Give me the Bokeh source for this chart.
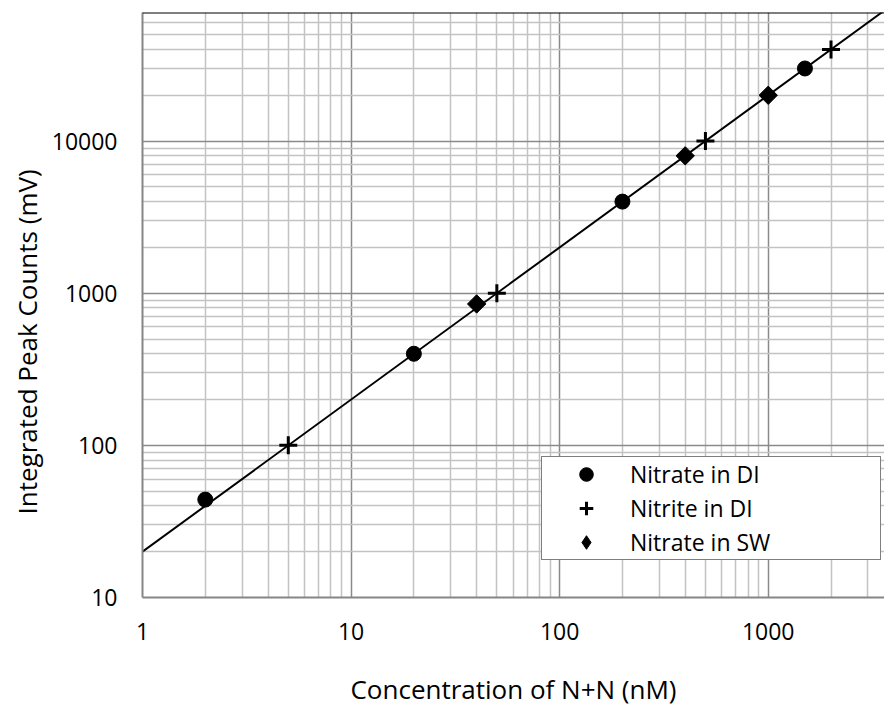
import numpy as np
from bokeh.plotting import figure
from bokeh.models import Range1d, FixedTicker, Span, Legend, LegendItem, Title
from bokeh.embed import file_html
from bokeh.resources import INLINE

# ---- data ----
nitrate_di_x = [2, 20, 200, 1500]
nitrate_di_y = [44, 400, 4000, 30000]
nitrite_di_x = [5, 50, 500, 2000]
nitrite_di_y = [100, 1000, 10000, 40000]
nitrate_sw_x = [40, 400, 1000]
nitrate_sw_y = [850, 8000, 20000]

fit_slope = 20.0          # trend line y = 20 * x
x_limits = [1, 3610]
y_limits = [10, 70000]

x_ticks = [1, 10, 100, 1000]
x_tick_labels = ["1", "10", "100", "1000"]
y_ticks = [10, 100, 1000, 10000]
y_tick_labels = ["10", "100", "1000", "10000"]

x_title = "Concentration of N+N (nM)"
y_title = "Integrated Peak Counts  (mV)"
series_names = ["Nitrate in DI", "Nitrite in DI", "Nitrate in SW"]

def minor_for(majors, upper):
    out = []
    for m in majors:
        for k in range(2, 10):
            v = m * k
            if v <= upper:
                out.append(v)
    return out

x_minor = minor_for(x_ticks, x_limits[1])
y_minor = minor_for(y_ticks, y_limits[1])

FONT = "Open Sans"

p = figure(width=884, height=709, x_axis_type="log", y_axis_type="log",
           x_range=Range1d(*x_limits), y_range=Range1d(*y_limits),
           output_backend="svg", toolbar_location=None, title=None,
           min_border_left=142, min_border_right=0, min_border_top=12,
           min_border_bottom=111, background_fill_color="white",
           border_fill_color="white", outline_line_color=None)

p.xaxis.ticker = FixedTicker(ticks=x_ticks, minor_ticks=x_minor)
p.yaxis.ticker = FixedTicker(ticks=y_ticks, minor_ticks=y_minor)
p.xaxis.major_label_overrides = {t: s for t, s in zip(x_ticks, x_tick_labels)}
p.yaxis.major_label_overrides = {t: s for t, s in zip(y_ticks, y_tick_labels)}

for ax in (p.xaxis, p.yaxis):
    ax.major_tick_line_color = None
    ax.minor_tick_line_color = None
    ax.major_tick_out = 0
    ax.major_tick_in = 0
    ax.minor_tick_out = 0
    ax.minor_tick_in = 0
    ax.axis_line_color = "#868686"
    ax.axis_line_width = 2
    ax.major_label_text_font = FONT
    ax.major_label_text_font_size = "23px"
    ax.major_label_text_color = "#000000"

p.xaxis.major_label_standoff = 25
p.yaxis.major_label_standoff = 25

p.xaxis.axis_label = x_title
p.xaxis.axis_label_text_font = FONT
p.xaxis.axis_label_text_font_size = "26px"
p.xaxis.axis_label_text_font_style = "normal"
p.xaxis.axis_label_text_color = "#000000"
p.xaxis.axis_label_standoff = 28

# y axis title placed as a side title so it sits where the reference has it
p.add_layout(Title(text=y_title, align="left", offset=83, text_font=FONT,
                   text_font_size="26px", text_font_style="normal",
                   text_color="#000000", standoff=8), "left")

for g in (p.xgrid, p.ygrid):
    g.grid_line_color = "#8a8a8a"
    g.grid_line_width = 1.5
    g.minor_grid_line_color = "#c3c3c3"
    g.minor_grid_line_width = 1.5

p.add_layout(Span(location=y_limits[1], dimension="width",
                  line_color="black", line_width=2))

# trend line
fit_x = np.array([x_limits[0], x_limits[1]], dtype=float)
fit_y = fit_slope * fit_x
p.line(fit_x, fit_y, line_color="black", line_width=2)

r1 = p.scatter(nitrate_di_x, nitrate_di_y, marker="circle", size=15,
               fill_color="black", line_color="black")
r2 = p.scatter(nitrite_di_x, nitrite_di_y, marker="cross", size=18,
               line_color="black", line_width=3)
r3 = p.scatter(nitrate_sw_x, nitrate_sw_y, marker="square", size=13,
               angle=np.pi / 4, fill_color="black", line_color="black")
# diamond marker drawn inside the rotated squares; used for the legend swatch
r3b = p.scatter(nitrate_sw_x, nitrate_sw_y, marker="diamond", size=16,
                fill_color="black", line_color="black")

legend = Legend(items=[LegendItem(label=series_names[0], renderers=[r1]),
                       LegendItem(label=series_names[1], renderers=[r2]),
                       LegendItem(label=series_names[2], renderers=[r3b])],
                location=(399, 37), padding=0, margin=0,
                glyph_width=88, glyph_height=34, label_standoff=0,
                label_width=250, label_height=34, spacing=0,
                label_text_font=FONT, label_text_font_size="23px",
                label_text_color="#000000",
                border_line_color="black", border_line_width=1.5,
                background_fill_color="white", background_fill_alpha=1.0)
p.add_layout(legend)

open("out.html", "w").write(file_html(p, INLINE))
